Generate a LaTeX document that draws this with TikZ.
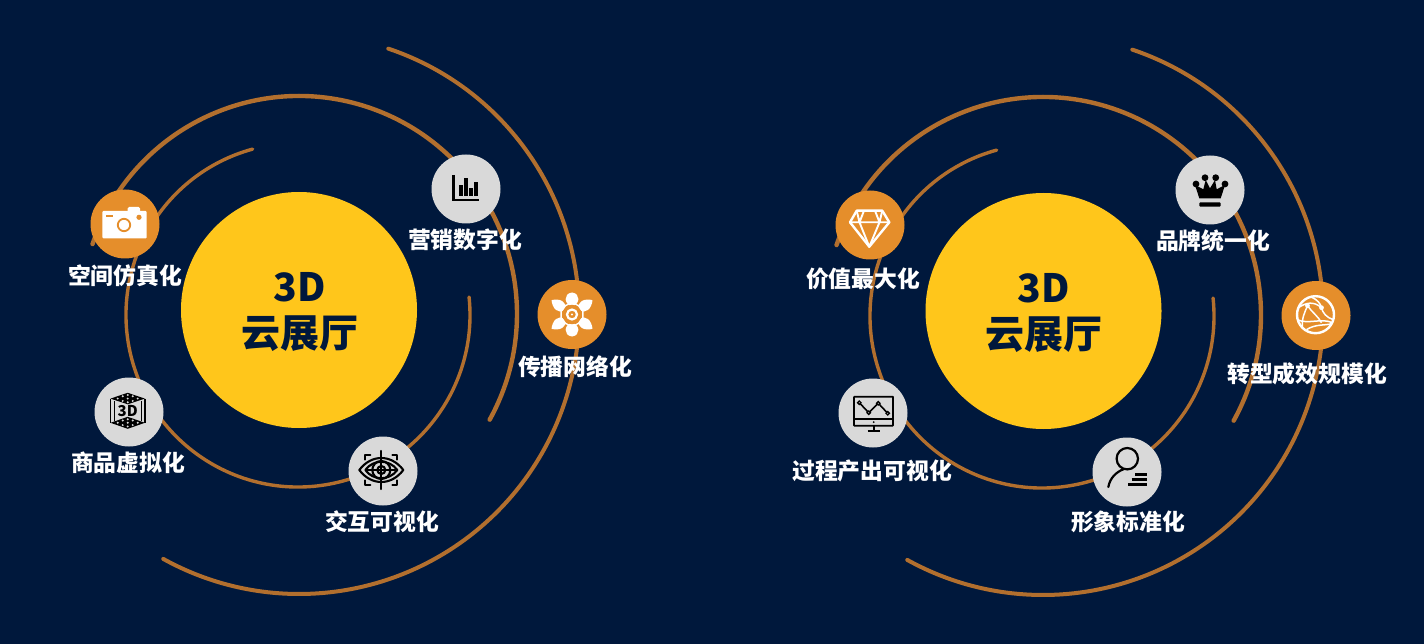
\documentclass[tikz,border=0pt]{standalone}
\usepackage{fontspec}
\setmainfont{Noto Sans CJK SC}
\definecolor{bgnavy}{HTML}{00183C}
\definecolor{ringc}{HTML}{B26F2E}
\definecolor{sun}{HTML}{FFC61B}
\definecolor{amber}{HTML}{E58E2B}
\definecolor{greyc}{HTML}{D9D9D9}
\tikzset{
  x=1pt,y=1pt,
  ring/.style={draw=ringc,line cap=round},
  sunball/.style={circle,fill=sun,minimum size=236pt,inner sep=0pt},
  suntext/.style={text=bgnavy,inner sep=0pt,font=\bfseries\fontsize{39}{44}\selectfont},
  ambdot/.style={circle,fill=amber,minimum size=69pt,inner sep=0pt},
  greydot/.style={circle,fill=greyc,minimum size=69pt,inner sep=0pt},
  lab/.style={text=white,inner sep=0pt,font=\bfseries\fontsize{22.8}{24}\selectfont},
  whiteink/.style={draw=white,line width=2.4pt,line join=round,line cap=round},
  blackink/.style={draw=black,line width=2.1pt,line join=round,line cap=round},
}
\newcommand{\ringset}{%
  \draw[ring,line width=3.4pt,shift={(-1,-1)}] (105.3:172) arc (105.3:366:172);
  \draw[ring,line width=4.4pt] (161.3:218) arc (161.3:-29:218);
  \draw[ring,line width=4pt] (71.4:280) arc (71.4:-119:280);
}
\newcommand{\iconcamera}[1]{\begin{scope}[shift={(#1.center)}]
  \fill[white,rounded corners=1pt] (-22.7,-14.3) rectangle (21.7,13);
  \fill[white,rounded corners=1.5pt] (2.7,10) rectangle (15,17);
  \draw[amber,line width=1.8pt] (-1,-1) circle (6.2);
  \fill[amber] (14,6.7) circle (2.6);
  \fill[amber] (-19,7.2) rectangle (-12.5,8.8);
\end{scope}}
\newcommand{\iconchart}[1]{\begin{scope}[shift={(#1.center)}]
  \draw[black,line width=2.8pt,line join=miter] (-12.7,14) -- (-12.7,-11) -- (13.3,-11);
  \foreach \bx/\by in {-5/4,0/10.7,5/0.7,10/7.3}
    \fill[black] (\bx-2,-7) rectangle (\bx+2,\by);
\end{scope}}
\newcommand{\iconatom}[1]{\begin{scope}[shift={(#1.center)}]
  \foreach \ang in {90,270}
    \fill[white,rotate=\ang] (8,0) .. controls (10,8) and (21,9) .. (22,0) .. controls (21,-9) and (10,-8) .. (8,0) -- cycle;
  \foreach \ang in {35,-35,145,215}
    \fill[white,rotate=\ang] (8.5,0) .. controls (11,8.5) and (20,6) .. (25,0) .. controls (20,-6) and (11,-8.5) .. (8.5,0) -- cycle;
  \draw[white,line width=1.4pt] (90:12.5) -- (30:12.5) -- (-30:12.5) -- (-90:12.5) -- (-150:12.5) -- (150:12.5) -- cycle;
  \draw[amber,line width=3pt] (0,0) circle (8.2);
  \draw[white,line width=2.2pt] (0,0) circle (5);
  \fill[white] (0,0) circle (1.2);
\end{scope}}
\newcommand{\iconbox}[1]{\begin{scope}[shift={(#1.center)}]
  \begin{scope}[shift={(-1.3,1.2)}]
  \fill[black] (-17.2,12.2) -- (0,18) -- (17.2,12.2) -- (0,6.5) -- cycle;
  \fill[black] (-17.2,-12) -- (0,-6) -- (17.2,-12) -- (0,-18) -- cycle;
  \foreach \dx/\dy in {-10/12.2,-5/9.9,-5/14.5,0/12.2,0/8.6,0/15.8,5/9.9,5/14.5,10/12.2}{
    \fill[greyc] (\dx,\dy) circle (1.1);
    \fill[greyc] (\dx,\dy-24.2) circle (1.1);}
  \draw[black,line width=1.2pt] (-17.2,12.2) -- (-17.2,-12) (17.2,12.2) -- (17.2,-12) (-13.5,10) -- (-13.5,-10) (13.5,10) -- (13.5,-10);
  \node[inner sep=0pt,text=black,font=\bfseries\fontsize{15}{15}\selectfont] (#1txt) at (0,0) {3D};
  \end{scope}
\end{scope}}
\newcommand{\iconeye}[1]{\begin{scope}[shift={(#1.center)}]
  \begin{scope}[shift={(-1.7,1)}]
  \draw[blackink] (-22,0) .. controls (-10,16) and (10,16) .. (22,0) .. controls (10,-16) and (-10,-16) .. (-22,0) -- cycle;
  \draw[blackink] (-16,0) .. controls (-8,11) and (8,11) .. (16,0) .. controls (8,-11) and (-8,-11) .. (-16,0) -- cycle;
  \draw[blackink] (0,0) circle (9);
  \draw[blackink] (0,0) circle (4);
  \draw[blackink] (0,19) -- (0,-19) (-14,0) -- (14,0);
  \draw[blackink] (-16,10.5) -- (-16,15) -- (-11,15) (11,15) -- (16,15) -- (16,10.5) (-16,-10.5) -- (-16,-15) -- (-11,-15) (11,-15) -- (16,-15) -- (16,-10.5);
  \end{scope}
\end{scope}}
\newcommand{\icongem}[1]{\begin{scope}[shift={(#1.center)}]
  \draw[whiteink] (-13.3,14.3) -- (12.3,14.3) -- (19.3,2.7) -- (-0.7,-21.7) -- (-20,2.7) -- cycle;
  \draw[whiteink,line width=1.9pt] (-20,2.7) -- (19.3,2.7) (-6,14.3) -- (-10.5,2.7) -- (-0.7,-21.7) -- (9.5,2.7) -- (5,14.3) (-13.3,14.3) -- (-10.5,2.7) (12.3,14.3) -- (9.5,2.7);
\end{scope}}
\newcommand{\iconcrown}[1]{\begin{scope}[shift={(#1.center)}]
  \fill[black] (-10.7,-8.3) -- (-15,5) -- (-6.7,0.7) -- (-4.3,10) -- (0,1.7) -- (5,10) -- (6.7,0.7) -- (15,5) -- (10.7,-8.3) -- cycle;
  \foreach \cx/\cy in {-14/6,-5/12.3,5.7/12.3,15/6} \fill[black] (\cx,\cy) circle (3.4);
  \fill[black,rounded corners=1pt] (-10.7,-16.7) rectangle (10.7,-12.3);
\end{scope}}
\newcommand{\iconglobe}[1]{\begin{scope}[shift={(#1.center)}]
  \begin{scope}[shift={(-0.5,0.8)}]
  \draw[white,line width=2.4pt] (0,0) circle (18.5);
  \draw[white,line width=1.5pt] (-17,7) .. controls (-10,12) and (-2,14) .. (6,7) .. controls (7,2) and (11,-3) .. (18,-5);
  \draw[white,line width=1.5pt] (-8,9) .. controls (-11,2) and (-14,-4) .. (-13,-13);
  \draw[white,line width=1.5pt] (-18,-5) .. controls (-8,-10) and (6,-3) .. (17,-8);
  \draw[white,line width=1.5pt] (-8,9) .. controls (-4,3) and (3,-2) .. (6,-8);
  \draw[white,line width=1.5pt] (-4,17.5) .. controls (2,15) and (5,11) .. (6,7);
  \draw[white,line width=1.5pt] (-9,-15) .. controls (0,-9) and (10,-11) .. (16,-9);
  \foreach \nx/\ny in {-8/9,6/7} \fill[white] (\nx,\ny) circle (2.4);
  \end{scope}
\end{scope}}
\newcommand{\iconmonitor}[1]{\begin{scope}[shift={(#1.center)}]
  \draw[black,line width=1.7pt,rounded corners=0.5pt] (-19,16.3) rectangle (20,-12.7);
  \draw[black,line width=1.7pt] (-19,-6) -- (20,-6) (0.7,-12.7) -- (0.7,-18) (-5.5,-18) -- (6.5,-18);
  \draw[black,line width=1.6pt] (-13.7,10.3) -- (-4.3,0.3) -- (5.3,9.7) -- (14.7,-0.3);
  \foreach \px/\py in {-13.7/10.3,-4.3/0.3,5.3/9.7,14.7/-0.3}
    \draw[black,fill=greyc,line width=1.3pt] (\px,\py) circle (1.7);
  \fill[black] (0.7,-9.2) circle (1);
\end{scope}}
\newcommand{\iconperson}[1]{\begin{scope}[shift={(#1.center)}]
  \draw[black,line width=2.2pt] (0.3,13.3) circle (10.7);
  \draw[black,line width=2.2pt,line cap=round] (-18.7,-15) .. controls (-17,-6) and (-11,0) .. (-3,3);
  \draw[black,line width=2.6pt] (8,-2.3) -- (19.7,-2.3) (4.7,-7.3) -- (20.3,-7.3) (1.3,-12.3) -- (20.3,-12.3);
\end{scope}}
\begin{document}
\begin{tikzpicture}
  \path[fill=bgnavy,use as bounding box] (0,0) rectangle (1424,-644);
  % left group
  \begin{scope}[shift={(299,-314)}]\ringset\end{scope}
  \node[sunball] (sunL) at (299,-310) {};
  \node[suntext] (sunLa) at (299.5,-287) {3D};
  \node[suntext] (sunLb) at (299.5,-334) {云展厅};
  \node[ambdot] (camera) at (125,-224) {};
  \node[greydot] (chart) at (466,-189) {};
  \node[ambdot] (atom) at (572,-314.5) {};
  \node[greydot] (boxi) at (129,-412) {};
  \node[greydot] (eye) at (383,-471) {};
  \iconcamera{camera}\iconchart{chart}\iconatom{atom}\iconbox{boxi}\iconeye{eye}
  \node[lab] (l1) at (125,-276) {空间仿真化};
  \node[lab] (l2) at (465,-240) {营销数字化};
  \node[lab] (l3) at (575,-367) {传播网络化};
  \node[lab] (l4) at (128,-463) {商品虚拟化};
  \node[lab] (l5) at (382,-522) {交互可视化};
  % right group
  \begin{scope}[shift={(1043,-315)}]\ringset\end{scope}
  \node[sunball] (sunR) at (1043.5,-311) {};
  \node[suntext] (sunRa) at (1044,-288) {3D};
  \node[suntext] (sunRb) at (1044,-335) {云展厅};
  \node[ambdot] (gem) at (870,-225) {};
  \node[greydot] (crown) at (1210,-190) {};
  \node[ambdot] (globe) at (1316,-315.5) {};
  \node[greydot] (monitor) at (873,-413) {};
  \node[greydot] (person) at (1127,-472) {};
  \icongem{gem}\iconcrown{crown}\iconglobe{globe}\iconmonitor{monitor}\iconperson{person}
  \node[lab] (r1) at (863,-279) {价值最大化};
  \node[lab] (r2) at (1213,-241) {品牌统一化};
  \node[lab] (r3) at (1307,-374) {转型成效规模化};
  \node[lab] (r4) at (872,-471) {过程产出可视化};
  \node[lab] (r5) at (1128,-522) {形象标准化};
\end{tikzpicture}
\end{document}
